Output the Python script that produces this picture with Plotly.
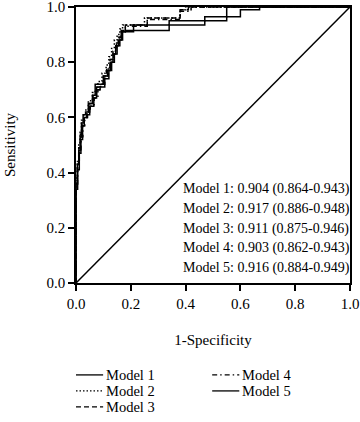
import plotly.graph_objects as go

# ---------------- data ----------------
model_names = ["Model 1", "Model 2", "Model 3", "Model 4", "Model 5"]
auc_labels = [
    "Model 1: 0.904 (0.864-0.943)",
    "Model 2: 0.917 (0.886-0.948)",
    "Model 3: 0.911 (0.875-0.946)",
    "Model 4: 0.903 (0.862-0.943)",
    "Model 5: 0.916 (0.884-0.949)",
]

m1_fpr = [0, 0, 0.006, 0.012, 0.018, 0.024, 0.03, 0.04, 0.05, 0.065, 0.075, 0.085, 0.105, 0.12, 0.13, 0.14, 0.15, 0.16, 0.17, 0.18, 0.34, 0.47, 0.55, 0.60, 0.67, 1.0]
m1_tpr = [0, 0.27, 0.34, 0.41, 0.47, 0.52, 0.57, 0.60, 0.61, 0.64, 0.67, 0.71, 0.71, 0.74, 0.77, 0.80, 0.83, 0.86, 0.88, 0.91, 0.915, 0.935, 0.95, 0.965, 0.99, 1.0]

m2_fpr = [0, 0, 0.005, 0.01, 0.015, 0.02, 0.028, 0.036, 0.045, 0.06, 0.07, 0.08, 0.095, 0.11, 0.12, 0.13, 0.14, 0.15, 0.16, 0.17, 0.25, 0.38, 0.40, 0.55, 1.0]
m2_tpr = [0, 0.30, 0.38, 0.44, 0.50, 0.55, 0.59, 0.61, 0.63, 0.66, 0.69, 0.70, 0.73, 0.76, 0.79, 0.82, 0.85, 0.88, 0.90, 0.92, 0.935, 0.96, 0.99, 1.0, 1.0]

m3_fpr = [0, 0, 0.005, 0.01, 0.016, 0.022, 0.03, 0.04, 0.05, 0.062, 0.075, 0.088, 0.10, 0.112, 0.124, 0.135, 0.145, 0.155, 0.165, 0.18, 0.26, 0.38, 0.41, 0.55, 1.0]
m3_tpr = [0, 0.29, 0.37, 0.43, 0.49, 0.54, 0.58, 0.60, 0.62, 0.65, 0.68, 0.70, 0.72, 0.75, 0.78, 0.81, 0.84, 0.87, 0.89, 0.915, 0.935, 0.96, 0.99, 1.0, 1.0]

m4_fpr = [0, 0, 0.006, 0.012, 0.018, 0.025, 0.032, 0.042, 0.052, 0.066, 0.08, 0.09, 0.105, 0.118, 0.128, 0.138, 0.148, 0.158, 0.168, 0.18, 0.26, 0.38, 0.42, 0.56, 1.0]
m4_tpr = [0, 0.28, 0.35, 0.42, 0.48, 0.53, 0.57, 0.60, 0.62, 0.64, 0.67, 0.70, 0.72, 0.75, 0.78, 0.81, 0.84, 0.87, 0.89, 0.91, 0.93, 0.955, 0.985, 1.0, 1.0]

m5_fpr = [0, 0, 0.005, 0.01, 0.015, 0.02, 0.026, 0.035, 0.045, 0.06, 0.07, 0.08, 0.10, 0.115, 0.125, 0.135, 0.145, 0.155, 0.165, 0.175, 0.21, 0.34, 0.47, 0.55, 0.57, 1.0]
m5_tpr = [0, 0.28, 0.36, 0.43, 0.48, 0.53, 0.58, 0.61, 0.62, 0.65, 0.68, 0.72, 0.72, 0.75, 0.77, 0.80, 0.83, 0.86, 0.88, 0.91, 0.91, 0.935, 0.95, 0.965, 1.0, 1.0]

diag_x = [0, 1]
diag_y = [0, 1]

fprs = [m1_fpr, m2_fpr, m3_fpr, m4_fpr, m5_fpr]
tprs = [m1_tpr, m2_tpr, m3_tpr, m4_tpr, m5_tpr]

# ---------------- style ----------------
FONT = "Liberation Serif"
dashes = ["solid", "1.5px,2px", "5px,3px", "5px,3px,1.5px,3px", "solid"]

fig = go.Figure()

fig.add_trace(go.Scatter(x=diag_x, y=diag_y, mode="lines",
                         line=dict(color="black", width=1.5),
                         showlegend=False, hoverinfo="skip"))

for name, fx, ty, d in zip(model_names, fprs, tprs, dashes):
    fig.add_trace(go.Scatter(x=fx, y=ty, mode="lines", name=name,
                             line=dict(color="black", width=1.5, dash=d, shape="vh"),
                             showlegend=False))

# AUC text (one annotation per line)
auc_y = [0.341, 0.269, 0.197, 0.126, 0.054]
for txt, yy in zip(auc_labels, auc_y):
    fig.add_annotation(x=0.384, y=yy, xref="x", yref="y", text=txt,
                       showarrow=False, xanchor="left", yanchor="middle",
                       font=dict(family=FONT, size=14, color="black"))

# manual legend (two columns, column-major)
leg_pos = [(0, 0), (0, 1), (0, 2), (1, 0), (1, 1)]
col_x = [0.0, 0.497]
row_y = [-0.333, -0.391, -0.449]
for name, d, (c, r) in zip(model_names, dashes, leg_pos):
    x0 = col_x[c]
    yy = row_y[r]
    fig.add_shape(type="line", xref="paper", yref="paper",
                  x0=x0, x1=x0 + 0.099, y0=yy, y1=yy,
                  line=dict(color="black", width=1.3, dash=d))
    fig.add_annotation(x=x0 + 0.101, y=yy, xref="paper", yref="paper",
                       text=name, showarrow=False, xanchor="left", yanchor="middle",
                       font=dict(family=FONT, size=14.5, color="black"))

axis_common = dict(range=[0, 1], showline=True, linecolor="black", linewidth=1.5,
                   mirror=True, ticks="outside", ticklen=6, tickwidth=1.5,
                   tickcolor="black", showgrid=False, zeroline=False,
                   ticklabeloverflow="allow",
                   tickvals=[0, 0.2, 0.4, 0.6, 0.8, 1.0],
                   ticktext=["0.0", "0.2", "0.4", "0.6", "0.8", "1.0"],
                   tickfont=dict(family=FONT, size=15, color="black"))

fig.update_xaxes(**axis_common, automargin="bottom",
                 title=dict(text="1-Specificity", standoff=24,
                            font=dict(family=FONT, size=15, color="black")))
fig.update_yaxes(**axis_common, automargin="left",
                 title=dict(text="Sensitivity", standoff=27,
                            font=dict(family=FONT, size=15, color="black")))

fig.update_layout(width=360, height=422,
                  margin=dict(l=76, r=10, t=7, b=139),
                  plot_bgcolor="white", paper_bgcolor="white",
                  showlegend=False)

fig.write_html("out.html", config={"displayModeBar": False},
               post_script="document.body.style.margin='0px';document.body.style.overflow='hidden';")
